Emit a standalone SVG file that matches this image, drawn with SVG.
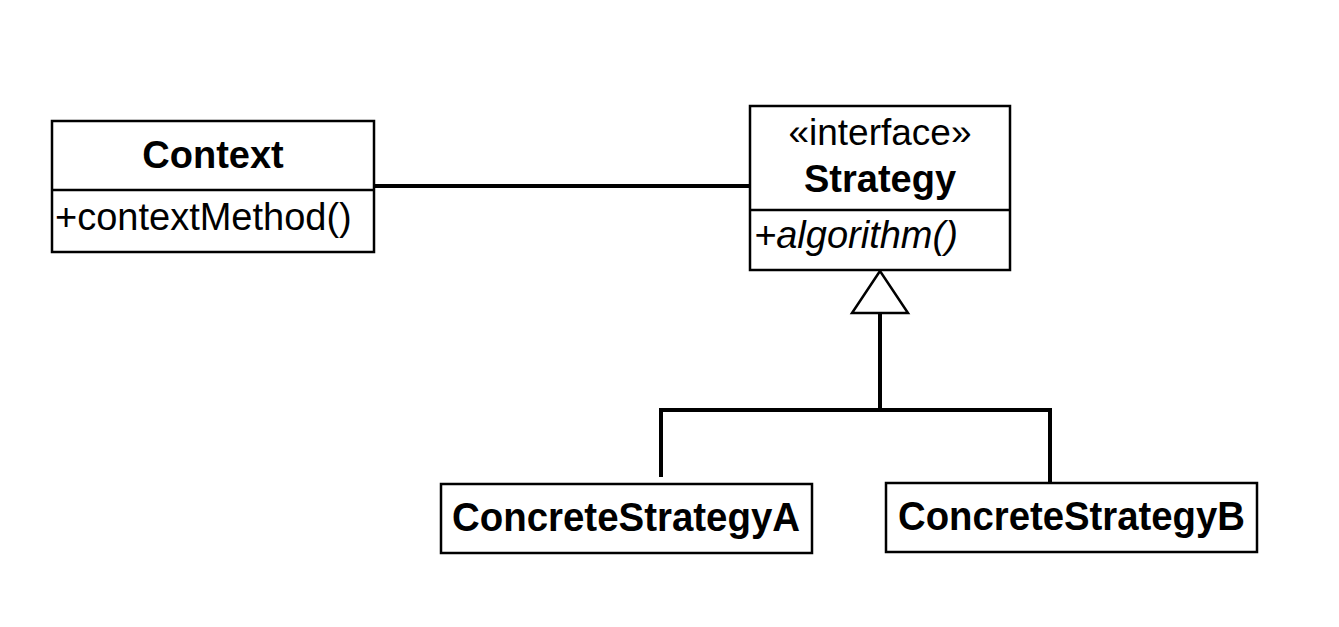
<svg xmlns="http://www.w3.org/2000/svg" width="1339" height="627" viewBox="0 0 1339 627">
<style>
.box{fill:#fff;stroke:#000;stroke-width:2.5}
.div{stroke:#000;stroke-width:2.5}
.conn{fill:none;stroke:#000;stroke-width:4}
text{font-family:"Liberation Sans",Arial,sans-serif;fill:#000}
.b{font-weight:bold}
</style>
<rect width="1339" height="627" fill="#fff"/>
<g id="connectors">
<line class="conn" x1="374" y1="186" x2="750" y2="186"/>
<polygon points="880,271 852,313 908,313" fill="#fff" stroke="#000" stroke-width="2.5"/>
<polyline class="conn" points="880,313 880,410"/>
<polyline class="conn" points="661,477 661,410 1050,410 1050,485"/>
</g>
<g id="context">
<rect class="box" x="52" y="121" width="322" height="131"/>
<line class="div" x1="52" y1="190" x2="374" y2="190"/>
<text class="b" x="213" y="168" font-size="38" text-anchor="middle">Context</text>
<text x="55" y="230" font-size="38">+contextMethod()</text>
</g>
<g id="strategy">
<rect class="box" x="750" y="106" width="260" height="164"/>
<line class="div" x1="750" y1="210" x2="1010" y2="210"/>
<text x="880" y="145" font-size="37" text-anchor="middle">«interface»</text>
<text class="b" x="880" y="192" font-size="38" text-anchor="middle">Strategy</text>
<text x="754" y="248" font-size="38" font-style="italic">+algorithm()</text>
</g>
<g id="concreteA">
<rect class="box" x="441" y="484" width="371" height="69"/>
<text class="b" x="452" y="531" font-size="41" textLength="348" lengthAdjust="spacingAndGlyphs">ConcreteStrategyA</text>
</g>
<g id="concreteB">
<rect class="box" x="886" y="483" width="371" height="69"/>
<text class="b" x="898" y="530" font-size="41" textLength="347" lengthAdjust="spacingAndGlyphs">ConcreteStrategyB</text>
</g>
</svg>
